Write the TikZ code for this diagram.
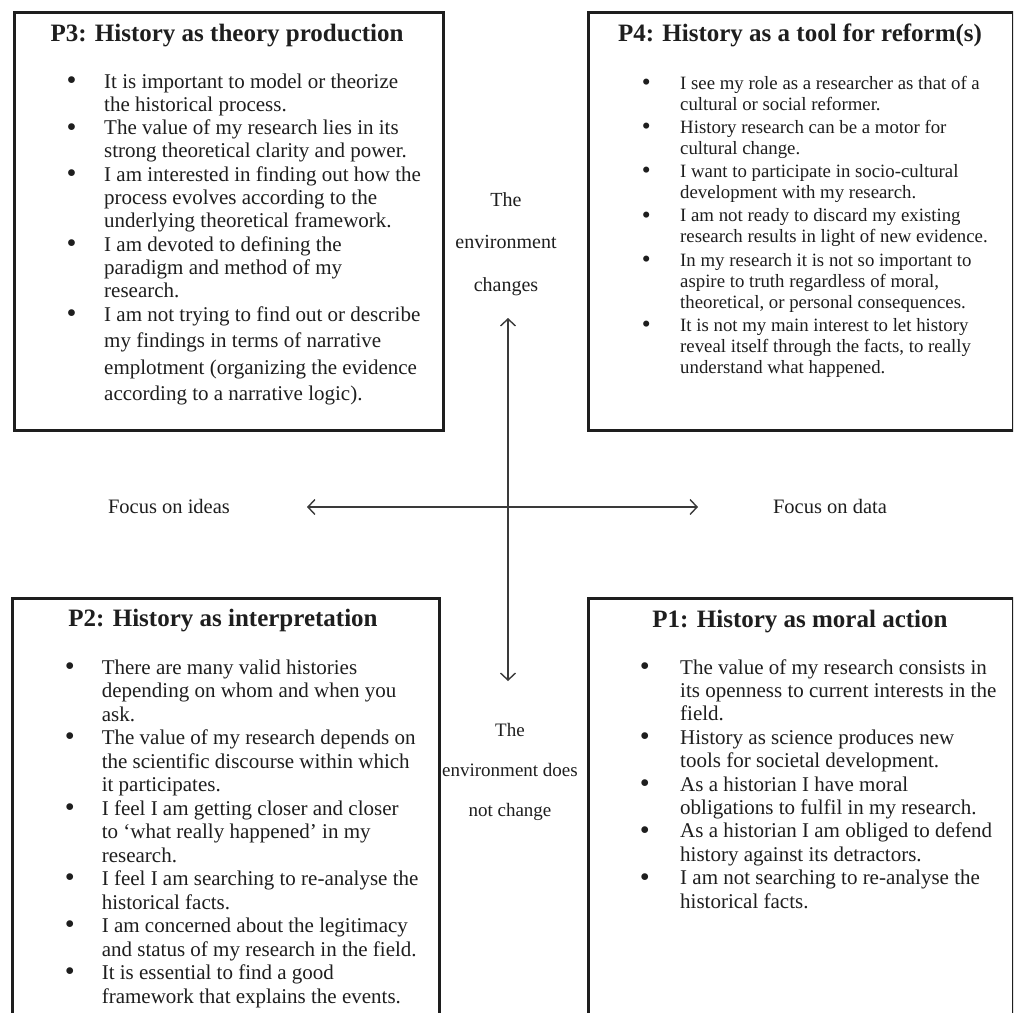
\documentclass[tikz,border=0pt]{standalone}
\usepackage{fontspec}
\setmainfont{Liberation Serif}
\usetikzlibrary{arrows.meta}
\definecolor{ink}{HTML}{1E1E1E}
\definecolor{axisgray}{HTML}{3A3A3A}
\newcommand{\bdot}{\raisebox{-0.07em}{\scalebox{1.35}{\textbullet}}}
\begin{document}
\begin{tikzpicture}[x=1pt,y=-1pt,
  panel/.style={draw=ink, line width=3pt, inner sep=0pt, anchor=north west},
  ptitle/.style={font=\bfseries\fontsize{25}{30}\selectfont, text=ink, anchor=base, inner sep=0pt},
  plist/.style={anchor=base west, inner sep=0pt, text=ink},
  body/.style={font=\fontsize{21}{23.3}\selectfont},
  smallbody/.style={font=\fontsize{18.8}{21}\selectfont},
  lbl/.style={anchor=base, inner sep=0pt, text=ink},
  axis/.style={draw=axisgray, line width=1.4pt,
    {Straight Barb[length=7pt,width=15pt,line width=1.4pt]}-{Straight Barb[length=7pt,width=15pt,line width=1.4pt]}}
]
\useasboundingbox (0,0) rectangle (1013,1013);
\fill[white] (0,0) rectangle (1013,1013);
\begin{scope}
\clip (0,0) rectangle (1013,1013);

% panels
\node[panel, minimum width=429pt, minimum height=418pt] (p3) at (12.5,10.5) {};
\node[panel, minimum width=425pt, minimum height=418pt] (p4) at (586.5,10.5) {};
\node[panel, minimum width=427pt, minimum height=430pt] (p2) at (10.5,596.5) {};
\node[panel, minimum width=425pt, minimum height=430pt] (p1) at (586.5,596.5) {};

% titles
\node[ptitle] (t3) at (227,41) {P3: History as theory production};
\node[ptitle] (t4) at (800,41) {P4: History as a tool for reform(s)};
\node[ptitle] (t2) at (223,626.5) {P2: History as interpretation};
\node[ptitle] (t1) at (800,627.5) {P1: History as moral action};

% P3 list
\node[plist, body] (l3) at (66.3,88) {\begin{tabular}[t]{@{}p{37.7pt}@{}l@{}}
\bdot & It is important to model or theorize\\
 & the historical process.\\
\bdot & The value of my research lies in its\\
 & strong theoretical clarity and power.\\
\bdot & I am interested in finding out how the\\
 & process evolves according to the\\
 & underlying theoretical framework.\\
\bdot & I am devoted to defining the\\
 & paradigm and method of my\\
 & research.\\[0.5pt]
\bdot & I am not trying to find out or describe\\[3pt]
 & my findings in terms of narrative\\[3pt]
 & emplotment (organizing the evidence\\[3pt]
 & according to a narrative logic).
\end{tabular}};

% P4 list
\node[plist, smallbody] (l4) at (641.7,89) {\begin{tabular}[t]{@{}p{38.3pt}@{}l@{}}
\bdot & I see my role as a researcher as that of a\\
 & cultural or social reformer.\\[2.3pt]
\bdot & History research can be a motor for\\
 & cultural change.\\[2.3pt]
\bdot & I want to participate in socio-cultural\\
 & development with my research.\\[2.3pt]
\bdot & I am not ready to discard my existing\\
 & research results in light of new evidence.\\[2.3pt]
\bdot & In my research it is not so important to\\
 & aspire to truth regardless of moral,\\
 & theoretical, or personal consequences.\\[2.3pt]
\bdot & It is not my main interest to let history\\
 & reveal itself through the facts, to really\\
 & understand what happened.
\end{tabular}};

% P2 list
\node[plist, font=\fontsize{21}{23.5}\selectfont] (l2) at (64.6,674) {\begin{tabular}[t]{@{}p{37pt}@{}l@{}}
\bdot & There are many valid histories\\
 & depending on whom and when you\\
 & ask.\\
\bdot & The value of my research depends on\\
 & the scientific discourse within which\\
 & it participates.\\
\bdot & I feel I am getting closer and closer\\
 & to `what really happened' in my\\
 & research.\\
\bdot & I feel I am searching to re-analyse the\\
 & historical facts.\\
\bdot & I am concerned about the legitimacy\\
 & and status of my research in the field.\\
\bdot & It is essential to find a good\\
 & framework that explains the events.
\end{tabular}};

% P1 list
\node[plist, font=\fontsize{21}{23.4}\selectfont] (l1) at (639.6,674) {\begin{tabular}[t]{@{}p{40.4pt}@{}l@{}}
\bdot & The value of my research consists in\\
 & its openness to current interests in the\\
 & field.\\
\bdot & History as science produces new\\
 & tools for societal development.\\
\bdot & As a historian I have moral\\
 & obligations to fulfil in my research.\\
\bdot & As a historian I am obliged to defend\\
 & history against its detractors.\\
\bdot & I am not searching to re-analyse the\\
 & historical facts.
\end{tabular}};

% axis labels
\node[lbl, font=\fontsize{20}{42.5}\selectfont] (up) at (506,206) {\begin{tabular}[t]{@{}c@{}}The\\environment\\changes\end{tabular}};
\node[lbl, font=\fontsize{19}{40}\selectfont] (down) at (510,736) {\begin{tabular}[t]{@{}c@{}}The\\environment does\\not change\end{tabular}};
\node[lbl, font=\fontsize{20.5}{24}\selectfont] (ideas) at (169,513.5) {Focus on ideas};
\node[lbl, font=\fontsize{20.5}{24}\selectfont] (data) at (830,513.5) {Focus on data};

% axes
\coordinate (top) at (508,318);
\coordinate (bottom) at (508,681);
\coordinate (left) at (307,507);
\coordinate (right) at (698,507);
\draw[axis] (top) -- (bottom);
\draw[axis] (left) -- (right);
\end{scope}
\end{tikzpicture}
\end{document}
